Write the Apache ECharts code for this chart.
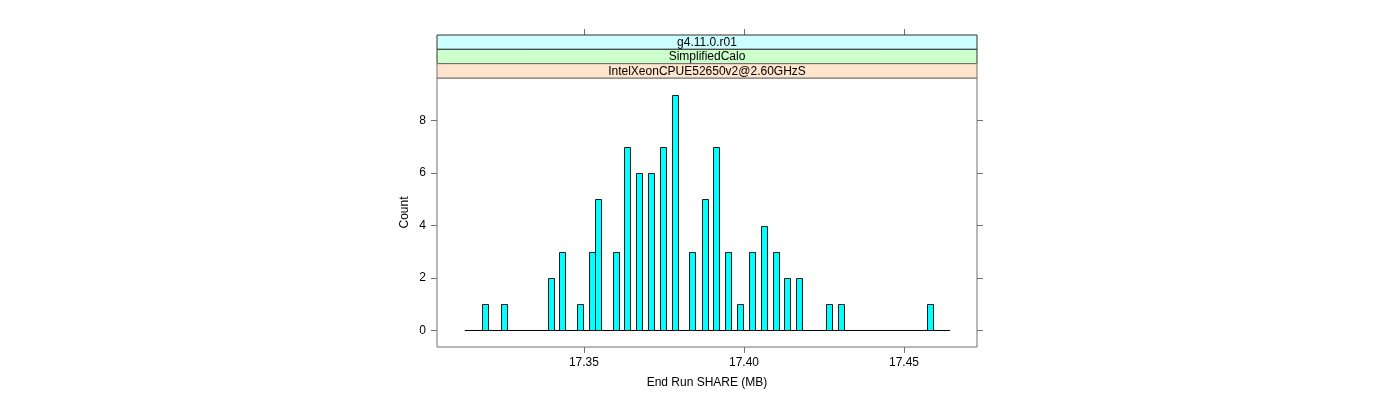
<!DOCTYPE html>
<html>
<head>
<meta charset="utf-8">
<script src="https://cdn.jsdelivr.net/npm/echarts@6/dist/echarts.min.js"></script>
<style>
html,body{margin:0;padding:0;background:#fff;}
#chart{width:1400px;height:400px;}
</style>
</head>
<body>
<div id="chart"></div>
<script>
// ---- data ----
var stripLabels = ['g4.11.0.r01', 'SimplifiedCalo', 'IntelXeonCPUE52650v2@2.60GHzS'];
var binStart = [17.3183, 17.3240, 17.3387, 17.3423, 17.3479, 17.3517, 17.3534, 17.3590, 17.3626,
                17.3663, 17.3701, 17.3738, 17.3774, 17.3829, 17.3868, 17.3904, 17.3942, 17.3978,
                17.4016, 17.4052, 17.4090, 17.4126, 17.4163, 17.4255, 17.4293, 17.4571];
var counts = [1, 1, 2, 3, 1, 3, 5, 3, 7, 6, 6, 7, 9, 3, 5, 7, 3, 1, 3, 4, 3, 2, 2, 1, 1, 1];
var binWidth = 0.00178;
var breaksRange = [17.3128, 17.4644];
var xTicks = [17.35, 17.40, 17.45];
var xTickLabels = ['17.35', '17.40', '17.45'];
var yTicks = [0, 2, 4, 6, 8];
var xRange = [17.3041, 17.4728];
var yRange = [-0.63, 9.63];

// ---- chart ----
var chart = echarts.init(document.getElementById('chart'));
var FONT = '"Liberation Sans", Arial, Helvetica, sans-serif';
var axisGray = '#707070';

var barData = binStart.map(function (s, i) { return [s, counts[i]]; });

var gridL = 437, gridR = 977, gridT = 78, gridB = 347;
var stripTop = 35, stripH = (gridT - stripTop) / 3;
var stripColors = ['#CCFFFF', '#CCFFCC', '#FFE5CC'];
var graphics = [];
stripLabels.forEach(function (lab, i) {
  graphics.push({
    type: 'rect',
    shape: { x: gridL, y: stripTop + i * stripH, width: gridR - gridL, height: stripH },
    style: { fill: stripColors[i], stroke: i === 2 ? axisGray : '#333', lineWidth: 1 },
    z: 10
  });
  graphics.push({
    type: 'text',
    x: (gridL + gridR) / 2,
    y: stripTop + i * stripH + stripH / 2 + 0.5,
    style: { text: lab, font: '12px ' + FONT, fill: '#000', align: 'center', verticalAlign: 'middle' },
    z: 11
  });
});

function xTickFmt(v) {
  var idx = xTicks.findIndex(function (t) { return Math.abs(t - v) < 1e-9; });
  return idx >= 0 ? xTickLabels[idx] : '';
}

chart.setOption({
  animation: false,
  backgroundColor: '#fff',
  grid: {
    left: gridL, right: 1400 - gridR, top: gridT, bottom: 400 - gridB,
    show: true, borderColor: axisGray, borderWidth: 1, backgroundColor: 'transparent'
  },
  graphic: graphics,
  xAxis: [{
    type: 'value', min: xRange[0], max: xRange[1], position: 'bottom',
    splitLine: { show: false },
    axisLine: { show: false, onZero: false },
    axisTick: { show: true, inside: false, length: 6, customValues: xTicks, lineStyle: { color: axisGray } },
    axisLabel: { show: true, customValues: xTicks, formatter: xTickFmt, margin: 10,
                 color: '#000', fontSize: 12, fontFamily: FONT },
    name: 'End Run SHARE (MB)', nameLocation: 'middle', nameGap: 30,
    nameTextStyle: { color: '#000', fontSize: 12, fontFamily: FONT }
  }, {
    type: 'value', min: xRange[0], max: xRange[1], position: 'top', offset: gridT - stripTop,
    splitLine: { show: false },
    axisLine: { show: false, onZero: false },
    axisTick: { show: true, inside: false, length: 6, customValues: xTicks, lineStyle: { color: axisGray } },
    axisLabel: { show: false }
  }],
  yAxis: [{
    type: 'value', min: yRange[0], max: yRange[1], position: 'left',
    splitLine: { show: false },
    axisLine: { show: false, onZero: false },
    axisTick: { show: true, inside: false, length: 6, customValues: yTicks, lineStyle: { color: axisGray } },
    axisLabel: { show: true, customValues: yTicks, margin: 11, color: '#000', fontSize: 12, fontFamily: FONT },
    name: 'Count', nameLocation: 'middle', nameGap: 26, nameRotate: 90,
    nameTextStyle: { color: '#000', fontSize: 12, fontFamily: FONT }
  }, {
    type: 'value', min: yRange[0], max: yRange[1], position: 'right',
    splitLine: { show: false },
    axisLine: { show: false, onZero: false },
    axisTick: { show: true, inside: false, length: 6, customValues: yTicks, lineStyle: { color: axisGray } },
    axisLabel: { show: false }
  }],
  series: [{
    type: 'line',
    data: [[breaksRange[0], 0], [breaksRange[1], 0]],
    symbol: 'none',
    lineStyle: { color: '#000', width: 1 },
    silent: true,
    z: 2
  }, {
    type: 'custom',
    data: barData,
    silent: true,
    z: 3,
    renderItem: function (params, api) {
      var s = api.value(0), c = api.value(1);
      var p0 = api.coord([s, c]);
      var p1 = api.coord([s + binWidth, 0]);
      return {
        type: 'rect',
        shape: { x: Math.round(p0[0]) + 0.5, y: Math.round(p0[1]) + 0.5,
                 width: Math.round(p1[0] - p0[0]), height: Math.round(p1[1]) - Math.round(p0[1]) },
        style: { fill: '#00FFFF', stroke: '#1a1a1a', lineWidth: 1 }
      };
    }
  }]
});
</script>
</body>
</html>
